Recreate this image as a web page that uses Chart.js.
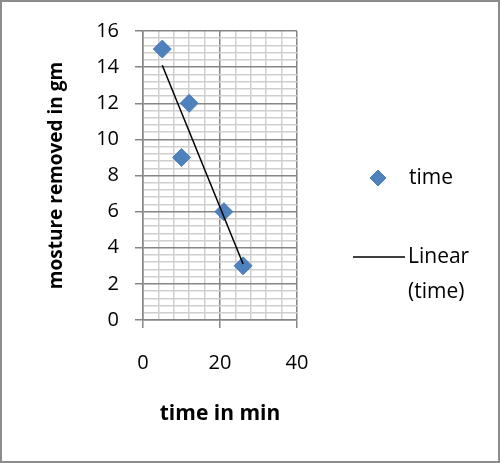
<!DOCTYPE html>
<html>
<head>
<meta charset="utf-8">
<script src="https://cdn.jsdelivr.net/npm/chart.js@4"></script>
<style>
  html, body { margin: 0; padding: 0; background: #fff; }
  #c { display: block; }
</style>
</head>
<body>
<canvas id="c" width="500" height="463"></canvas>
<script>
// valeurs
const timeMin = [5, 12, 10, 21, 26]
const moisture = [15, 12, 9, 6, 3]
// droite de tendance (Linear (time)), extrémités lues
const trendX = [5, 26]
const trendY = [14.1, 3.1]
const xTickLabels = [0, 20, 40]
const yTickLabels = [0, 2, 4, 6, 8, 10, 12, 14, 16]

const FONT = "'Open Sans', sans-serif"
const BLUE = "#4f81bd"
const MAJOR = "#868686"
const MINOR = "#cfcfcf"

const isMajor = (v, list) => list.some((t) => Math.abs(t - v) < 1e-6)

// cadre gris autour du graphique
const frame = {
  id: "frame",
  beforeDraw(chart) {
    const ctx = chart.ctx
    ctx.save()
    ctx.fillStyle = "#fff"
    ctx.fillRect(0, 0, chart.width, chart.height)
    ctx.strokeStyle = "#8c8c8c"
    ctx.lineWidth = 2
    ctx.strokeRect(1, 1, chart.width - 2, chart.height - 2)
    ctx.restore()
  },
}

// légende à droite, dessinée à la main
const sideLegend = {
  id: "sideLegend",
  afterDraw(chart) {
    const ctx = chart.ctx
    ctx.save()
    ctx.fillStyle = BLUE
    ctx.strokeStyle = BLUE
    ctx.lineWidth = 1
    Chart.helpers.drawPoint(ctx, { pointStyle: "rectRot", radius: 8, borderWidth: 1 }, 378, 178)
    ctx.fillStyle = "#000"
    ctx.font = "21px " + FONT
    ctx.textBaseline = "middle"
    ctx.fillText("time", 409, 178)
    ctx.strokeStyle = "#000"
    ctx.lineWidth = 1.5
    ctx.beginPath()
    ctx.moveTo(353, 257)
    ctx.lineTo(405, 257)
    ctx.stroke()
    ctx.fillText("Linear", 408, 257)
    ctx.fillText("(time)", 408, 292)
    ctx.restore()
  },
}

new Chart(document.getElementById("c"), {
  type: "scatter",
  data: {
    datasets: [
      {
        label: "Linear (time)",
        type: "line",
        data: trendX.map((x, i) => ({ x: x, y: trendY[i] })),
        borderColor: "#000",
        borderWidth: 1.5,
        pointRadius: 0,
        fill: false,
        order: 0,
      },
      {
        label: "time",
        data: timeMin.map((x, i) => ({ x: x, y: moisture[i] })),
        backgroundColor: BLUE,
        borderColor: BLUE,
        borderWidth: 1,
        pointStyle: "rectRot",
        pointRadius: 9,
        pointHoverRadius: 9,
        order: 1,
      },
    ],
  },
  options: {
    responsive: false,
    devicePixelRatio: 1,
    animation: false,
    layout: { padding: { top: 31, right: 203, left: 0, bottom: 0 } },
    plugins: {
      legend: { display: false },
      tooltip: { enabled: false },
    },
    scales: {
      x: {
        type: "linear",
        min: 0,
        max: 40,
        afterFit: (scale) => { scale.height = 143 },
        ticks: {
          stepSize: 4,
          autoSkip: false,
          maxRotation: 0,
          padding: 23,
          color: "#000",
          font: { family: FONT, size: 20 },
          callback: (v) => (isMajor(v, xTickLabels) ? v : ""),
        },
        grid: {
          color: (c) => (isMajor(c.tick.value, xTickLabels) ? MAJOR : MINOR),
          tickColor: (c) => (isMajor(c.tick.value, xTickLabels) ? MAJOR : "rgba(0,0,0,0)"),
          tickLength: 8,
          lineWidth: 1.5,
        },
        border: { display: true, color: MAJOR, width: 1.5 },
        title: {
          display: true,
          text: "time in min",
          color: "#000",
          font: { family: FONT, size: 21, weight: "bold" },
          padding: { top: 0, bottom: 36 },
        },
      },
      y: {
        type: "linear",
        min: 0,
        max: 16,
        afterFit: (scale) => { scale.width = 143 },
        ticks: {
          stepSize: 0.4,
          autoSkip: false,
          padding: 16,
          color: "#000",
          font: { family: FONT, size: 20 },
          callback: (v) => (isMajor(v, yTickLabels) ? Math.round(v) : ""),
        },
        grid: {
          color: (c) => (isMajor(c.tick.value, yTickLabels) ? MAJOR : MINOR),
          tickColor: (c) => (isMajor(c.tick.value, yTickLabels) ? MAJOR : "rgba(0,0,0,0)"),
          tickLength: 8,
          lineWidth: 1.5,
        },
        border: { display: true, color: MAJOR, width: 1.5 },
        title: {
          display: true,
          text: "mosture removed in gm",
          color: "#000",
          font: { family: FONT, size: 19, weight: "bold" },
          padding: { top: 45, bottom: 0 },
        },
      },
    },
  },
  plugins: [frame, sideLegend],
})
</script>
</body>
</html>
